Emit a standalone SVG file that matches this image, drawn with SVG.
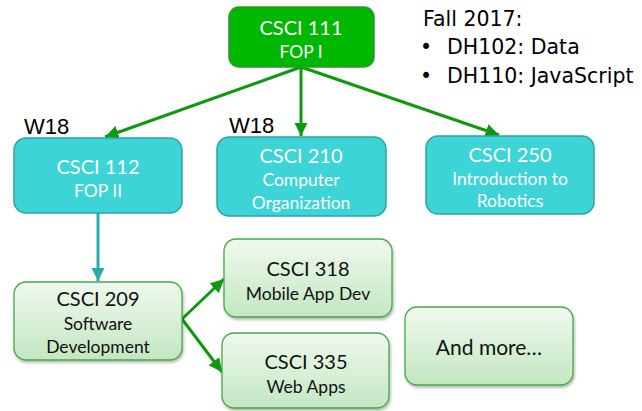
<svg xmlns="http://www.w3.org/2000/svg" width="642" height="411" viewBox="0 0 642 411">
<defs>
<linearGradient id="lg" x1="0" y1="0" x2="0" y2="1">
<stop offset="0" stop-color="#F0F9EE"/>
<stop offset="1" stop-color="#C3E7C2"/>
</linearGradient>
<filter id="sh" x="-10%" y="-10%" width="130%" height="130%">
<feDropShadow dx="1" dy="2" stdDeviation="1.5" flood-color="#000" flood-opacity="0.3"/>
</filter>
<marker id="ag" viewBox="0 0 10 10" refX="10" refY="5" markerWidth="4.5" markerHeight="4.5" orient="auto" markerUnits="strokeWidth">
<path d="M0,0 L10,5 L0,10 z" fill="#0F990F"/>
</marker>
<marker id="at" viewBox="0 0 10 10" refX="10" refY="5" markerWidth="4.5" markerHeight="4.5" orient="auto" markerUnits="strokeWidth">
<path d="M0,0 L10,5 L0,10 z" fill="#2BAAAE"/>
</marker>
</defs>
<style>
.top{fill:#00B800;stroke:#2E962E;stroke-width:1.5}
.teal{fill:#3CD4D6;stroke:#2DA3A6;stroke-width:1.5}
.lite{fill:url(#lg);stroke:#45A845;stroke-width:1.3}
.w{fill:#fff;font-family:Lato,"Open Sans",sans-serif;text-anchor:middle}
.k{fill:#111;font-family:Lato,"Open Sans",sans-serif;text-anchor:middle}
.h{font-size:20px}
.s{font-size:17.5px}
.n{fill:#000;font-family:"DejaVu Sans",Verdana,sans-serif;font-size:20.5px}
.wl{fill:#000;font-family:"Liberation Sans",Arial,sans-serif;font-size:22px}
.cg{stroke:#0F990F;stroke-width:3;fill:none}
.ct{stroke:#2BAAAE;stroke-width:3;fill:none}
</style>
<g id="connectors">
<line class="cg" x1="301" y1="67" x2="105" y2="137" marker-end="url(#ag)"/>
<line class="cg" x1="301" y1="67" x2="301" y2="136" marker-end="url(#ag)"/>
<line class="cg" x1="301" y1="67" x2="499" y2="135" marker-end="url(#ag)"/>
<line class="ct" x1="98" y1="213" x2="98" y2="281" marker-end="url(#at)"/>
<line class="cg" x1="182" y1="319" x2="224" y2="279" marker-end="url(#ag)"/>
<line class="cg" x1="182" y1="319" x2="222" y2="372" marker-end="url(#ag)"/>
</g>
<g id="csci111">
<rect class="top" x="229" y="7" width="145" height="60" rx="10"/>
<text class="w h" x="301" y="35">CSCI 111</text>
<text class="w s" x="301" y="58">FOP I</text>
</g>
<g id="note">
<text class="n" x="423" y="26">Fall 2017:</text>
<text class="n" x="420" y="54">•</text>
<text class="n" x="447" y="54">DH102: Data</text>
<text class="n" x="420" y="83">•</text>
<text class="n" x="447" y="83">DH110: JavaScript</text>
</g>
<g id="w18a"><text class="wl" x="24" y="134">W18</text></g>
<g id="w18b"><text class="wl" x="229" y="133">W18</text></g>
<g id="csci112">
<rect class="teal" x="14" y="138" width="168" height="75" rx="12"/>
<text class="w h" x="98" y="174">CSCI 112</text>
<text class="w s" x="98" y="197">FOP II</text>
</g>
<g id="csci210">
<rect class="teal" x="217" y="137" width="169" height="79" rx="12"/>
<text class="w h" x="301" y="163">CSCI 210</text>
<text class="w s" x="301" y="186">Computer</text>
<text class="w s" x="301" y="209">Organization</text>
</g>
<g id="csci250">
<rect class="teal" x="426" y="136" width="168" height="78" rx="12"/>
<text class="w h" x="510" y="162">CSCI 250</text>
<text class="w s" x="510" y="185">Introduction to</text>
<text class="w s" x="510" y="207">Robotics</text>
</g>
<g id="csci209">
<rect class="lite" filter="url(#sh)" x="14" y="282" width="168" height="78" rx="12"/>
<text class="k h" x="98" y="306">CSCI 209</text>
<text class="k s" x="98" y="330">Software</text>
<text class="k s" x="98" y="353">Development</text>
</g>
<g id="csci318">
<rect class="lite" filter="url(#sh)" x="224" y="239" width="168" height="78" rx="12"/>
<text class="k h" x="308" y="276">CSCI 318</text>
<text class="k s" x="308" y="300">Mobile App Dev</text>
</g>
<g id="csci335">
<rect class="lite" filter="url(#sh)" x="222" y="333" width="167" height="75" rx="12"/>
<text class="k h" x="306" y="369">CSCI 335</text>
<text class="k s" x="306" y="393">Web Apps</text>
</g>
<g id="more">
<rect class="lite" filter="url(#sh)" x="405" y="307" width="168" height="78" rx="12"/>
<text class="k" x="489" y="355" style="font-size:21px">And more…</text>
</g>
</svg>
